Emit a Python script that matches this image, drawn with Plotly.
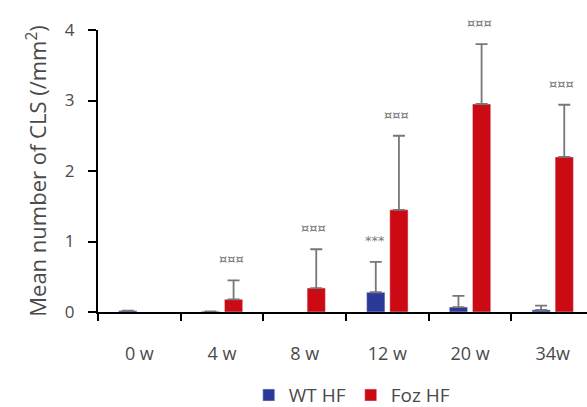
import plotly.graph_objects as go

categories = ["0 w", "4 w", "8 w", "12 w", "20 w", "34w"]
wt_mean = [0.02, 0.01, None, 0.28, 0.07, 0.03]
wt_err = [None, None, None, 0.43, 0.16, 0.06]
foz_mean = [None, 0.18, 0.34, 1.45, 2.95, 2.2]
foz_err = [None, 0.27, 0.55, 1.05, 0.85, 0.74]
wt_sig = ["", "", "", "***", "", ""]
foz_sig = ["", "¤¤¤", "¤¤¤", "¤¤¤", "¤¤¤", "¤¤¤"]

BLUE = "#2b3a98"
RED = "#cc0a14"
FONT = "Open Sans"
TXT = "#4a4a4a"
ERR = "#777777"

fig = go.Figure()
fig.add_bar(x=categories, y=wt_mean, name="WT HF", marker_color=BLUE,
            error_y=dict(type="data", array=wt_err, symmetric=False, arrayminus=[0]*6,
                         color=ERR, thickness=1.8, width=6))
fig.add_bar(x=categories, y=foz_mean, name="Foz HF", marker_color=RED,
            error_y=dict(type="data", array=foz_err, symmetric=False, arrayminus=[0]*6,
                         color=ERR, thickness=1.8, width=6))

for i, c in enumerate(categories):
    if wt_sig[i]:
        top = (wt_mean[i] or 0) + (wt_err[i] or 0)
        fig.add_annotation(x=c, y=top, text=wt_sig[i], xshift=-12, yshift=12,
                           yanchor="bottom", showarrow=False,
                           font=dict(family="DejaVu Sans", size=13, color=ERR))
    if foz_sig[i]:
        top = (foz_mean[i] or 0) + (foz_err[i] or 0)
        fig.add_annotation(x=c, y=top, text=foz_sig[i], xshift=9, yshift=12,
                           yanchor="bottom", showarrow=False,
                           font=dict(family="DejaVu Sans", size=13, color=ERR))

fig.update_layout(
    width=587, height=407,
    margin=dict(l=98, r=0, t=30, b=95, autoexpand=False),
    paper_bgcolor="white", plot_bgcolor="white",
    barmode="group", bargap=0.44, bargroupgap=0.21,
    font=dict(family=FONT, size=16, color=TXT),
    showlegend=True,
    legend=dict(orientation="h", x=0.52, xanchor="center", y=-0.295, yanchor="middle",
                font=dict(family=FONT, size=19, color=TXT), itemwidth=30,
                traceorder="normal"),
    xaxis=dict(type="category", range=[-0.5, 5.415], showline=True, linecolor="black",
               linewidth=2, ticks="outside", tickson="boundaries", ticklen=7, tickwidth=2,
               tickcolor="black", showgrid=False, ticklabelstandoff=24, automargin=False,
               tickfont=dict(family=FONT, size=18, color=TXT)),
    yaxis=dict(range=[0, 4], tickvals=[0, 1, 2, 3, 4], showline=True, linecolor="black",
               linewidth=2, ticks="outside", ticklen=8, tickwidth=2, tickcolor="black",
               showgrid=False, zeroline=False, ticklabelstandoff=10, automargin=False,
               tickfont=dict(family=FONT, size=17, color=TXT),
               title=dict(text="Mean number of CLS (/mm<sup>2</sup>)", standoff=12,
                          font=dict(family=FONT, size=22, color=TXT))),
)

fig.write_html("out.html")
